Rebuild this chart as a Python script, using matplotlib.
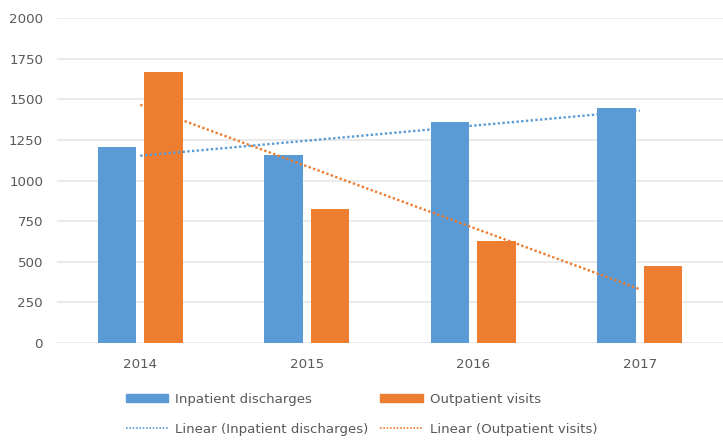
import numpy as np
import matplotlib.pyplot as plt
from matplotlib.patches import Patch
from matplotlib.lines import Line2D

years = ["2014", "2015", "2016", "2017"]
inpatient = [1205, 1155, 1360, 1445]
outpatient = [1670, 825, 625, 475]

BLUE = "#5b9bd5"
ORANGE = "#ed7d31"
TEXT = "#595959"
GRID = "#e6e6e6"

fig = plt.figure(figsize=(7.23, 4.43), dpi=100)
ax = fig.add_axes([57 / 723, 100 / 443, 666 / 723, 325 / 443])

x = np.arange(len(years))
width = 0.23
ax.bar(x - 0.14, inpatient, width, color=BLUE, zorder=2)
ax.bar(x + 0.14, outpatient, width, color=ORANGE, zorder=2)

# linear trend lines, like Excel's
for values, color in [(inpatient, BLUE), (outpatient, ORANGE)]:
    slope, intercept = np.polyfit(x, values, 1)
    ax.plot(x, slope * x + intercept, color=color, linestyle=(0, (1, 1)),
            linewidth=1.7, zorder=3)

ax.set_xlim(-0.5, 3.5)
ax.set_ylim(0, 2000)
ax.set_yticks(range(0, 2001, 250))
ax.set_xticks(x)
ax.set_xticklabels(years)
ax.yaxis.grid(True, color=GRID, linewidth=1.2, zorder=0)
ax.set_axisbelow(True)
for side in ["top", "right", "left", "bottom"]:
    ax.spines[side].set_visible(False)
ax.tick_params(length=0, colors=TEXT, labelsize=9.6)
ax.tick_params(axis="x", pad=11)
ax.tick_params(axis="y", pad=10)

# legend handles in column order so rows read like the original
handles = [
    Patch(color=BLUE, label="Inpatient discharges"),
    Line2D([], [], color=BLUE, linestyle=(0, (1, 1)), linewidth=1.2,
           label="Linear (Inpatient discharges)"),
    Patch(color=ORANGE, label="Outpatient visits"),
    Line2D([], [], color=ORANGE, linestyle=(0, (1, 1)), linewidth=1.2,
           label="Linear (Outpatient visits)"),
]
leg = fig.legend(handles=handles, ncol=2, loc="center",
                 bbox_to_anchor=(0.5, 0.065), frameon=False, fontsize=9.6,
                 handlelength=3.2, handleheight=0.6, columnspacing=0.9,
                 labelspacing=1.3, handletextpad=0.5)
for t in leg.get_texts():
    t.set_color(TEXT)

fig.savefig("out.png", dpi=100)
